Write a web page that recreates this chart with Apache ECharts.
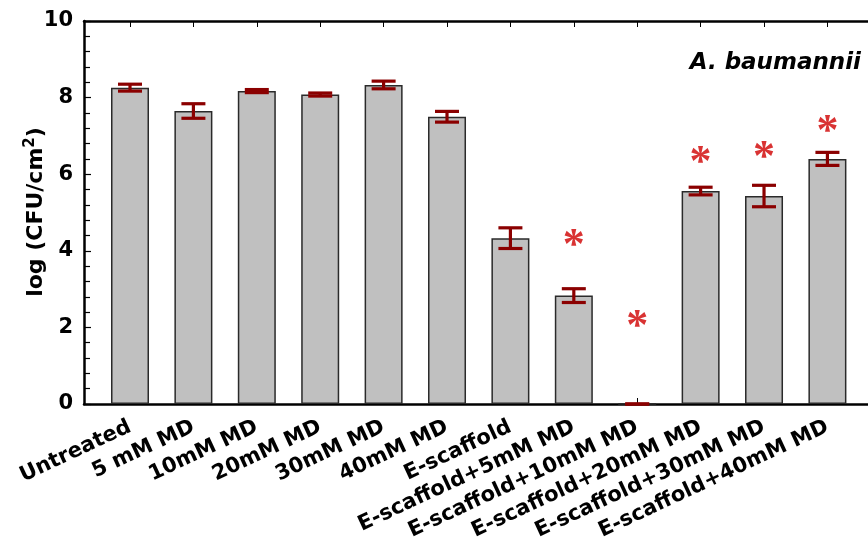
<!DOCTYPE html>
<html>
<head>
<meta charset="utf-8">
<script src="https://cdn.jsdelivr.net/npm/echarts@6/dist/echarts.min.js"></script>
<style>html,body{margin:0;padding:0;background:#fff}#c{width:868px;height:551px}</style>
</head>
<body>
<div id="c"></div>
<script>
const categories = ['Untreated','5 mM MD','10mM MD','20mM MD','30mM MD','40mM MD','E-scaffold','E-scaffold+5mM MD','E-scaffold+10mM MD','E-scaffold+20mM MD','E-scaffold+30mM MD','E-scaffold+40mM MD'];
const means = [8.26, 7.65, 8.17, 8.08, 8.33, 7.50, 4.33, 2.83, 0.0, 5.56, 5.43, 6.40];
const errors = [0.09, 0.19, 0.04, 0.04, 0.10, 0.14, 0.27, 0.18, 0.0, 0.10, 0.28, 0.17];
const starIndex = [7, 8, 9, 10, 11];
const starY = [4.30, 2.17, 6.46, 6.59, 7.28];
const yTitle = '{a|log (CFU/cm}{s|2}{a|)}';

const idx = categories.map((_, i) => i);
const FONT = 'DejaVu Sans';
const chart = echarts.init(document.getElementById('c'));
const xMin = -0.7256, xMax = 11.64;

chart.setOption({
  animation: false,
  grid: { left: 84, right: 0, top: 21, bottom: 147 },
  title: {
    text: 'A. baumannii', right: 2, top: 47,
    textStyle: { fontFamily: FONT, fontWeight: 'bold', fontStyle: 'italic', fontSize: 23, color: '#000' }
  },
  graphic: [{
    type: 'text', x: 36, y: 212, rotation: Math.PI / 2,
    style: {
      text: yTitle, align: 'center', verticalAlign: 'middle',
      rich: {
        a: { fontFamily: FONT, fontWeight: 'bold', fontSize: 22, fill: '#000' },
        s: { fontFamily: FONT, fontWeight: 'bold', fontSize: 15, fill: '#000', padding: [0, 0, 12, 0] }
      }
    }
  }],
  xAxis: [{
    type: 'value', min: xMin, max: xMax, position: 'bottom',
    axisLine: { show: true, onZero: false, lineStyle: { color: '#000', width: 2.5 } },
    axisTick: { show: true, inside: true, length: 6, customValues: idx, lineStyle: { color: '#000', width: 1 } },
    axisLabel: {
      show: true, customValues: idx, rotate: 25, margin: 22,
      formatter: v => categories[Math.round(v)] || '',
      fontFamily: FONT, fontWeight: 'bold', fontSize: 21, color: '#000'
    },
    splitLine: { show: false }
  }, {
    type: 'value', min: xMin, max: xMax, position: 'top',
    axisLine: { show: true, onZero: false, lineStyle: { color: '#000', width: 2.5 } },
    axisTick: { show: true, inside: true, length: 6, customValues: idx, lineStyle: { color: '#000', width: 1 } },
    axisLabel: { show: false },
    splitLine: { show: false }
  }],
  yAxis: {
    type: 'value', min: 0, max: 10, interval: 2,
    axisLine: { show: true, onZero: false, lineStyle: { color: '#000', width: 2.5 } },
    axisTick: { show: true, inside: true, length: 7, lineStyle: { color: '#000', width: 1.2 } },
    minorTick: { show: true, splitNumber: 5, length: 6, lineStyle: { color: '#000', width: 1.2 } },
    axisLabel: { fontFamily: FONT, fontWeight: 'bold', fontSize: 21, color: '#000', margin: 11 },
    splitLine: { show: false },
    minorSplitLine: { show: false }
  },
  series: [{
    type: 'bar', xAxisIndex: 0,
    data: idx.map(i => [i, means[i]]),
    barWidth: 38,
    itemStyle: { color: '#c0c0c0', borderColor: '#2a2a2a', borderWidth: 1.5 }
  }, {
    type: 'custom', xAxisIndex: 0, z: 5,
    data: idx.map(i => [i, means[i], errors[i]]),
    renderItem: function (params, api) {
      const x = api.value(0), m = api.value(1), e = api.value(2);
      const t = api.coord([x, m + e]);
      const b = api.coord([x, m - e]);
      const w = 12;
      const st = { stroke: '#8b0000', lineWidth: 3.2 };
      return {
        type: 'group',
        children: [
          { type: 'line', shape: { x1: t[0], y1: t[1], x2: b[0], y2: b[1] }, style: st },
          { type: 'line', shape: { x1: t[0] - w, y1: t[1], x2: t[0] + w, y2: t[1] }, style: st },
          { type: 'line', shape: { x1: b[0] - w, y1: b[1], x2: b[0] + w, y2: b[1] }, style: st }
        ]
      };
    }
  }, {
    type: 'scatter', xAxisIndex: 0, z: 6,
    data: starIndex.map((k, j) => [k, starY[j]]),
    symbolSize: 2,
    itemStyle: { color: 'rgba(0,0,0,0)' },
    label: {
      show: true, position: 'inside', formatter: '*', offset: [0, 7],
      fontFamily: 'Liberation Serif', fontWeight: 'bold', fontSize: 44, color: '#d00000'
    }
  }]
});
</script>
</body>
</html>
